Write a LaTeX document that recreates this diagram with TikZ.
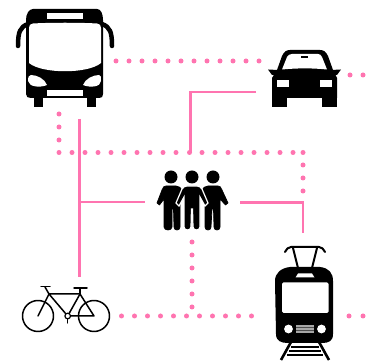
\documentclass[tikz,border=0pt]{standalone}
\definecolor{pk}{HTML}{FF74B0}
\tikzset{
  link/.style={draw=pk,line width=2.8pt,line join=miter},
  dotp/.style={fill=pk,draw=none},
  ink/.style={fill=black,draw=none},
  hole/.style={fill=white,draw=none},
  person/.style={fill=black,draw=black,line width=.7pt,line join=round},
  thin bike/.style={draw=black,line width=1.5pt,line cap=round,line join=round},
}
\begin{document}
\begin{tikzpicture}[x=1pt,y=-1pt]
\useasboundingbox (0,0) rectangle (370,363);
% anchor points of the connectors
\coordinate (busLink) at (79.5,119);
\coordinate (bikeLink) at (79.5,277);
\coordinate (busPeople) at (79.5,202);
\coordinate (peopleL) at (145,202);
\coordinate (carLink) at (256,92);
\coordinate (carDown) at (190.5,153);
\coordinate (peopleR) at (240,202.5);
\coordinate (tramLink) at (303,233);
% solid links
\draw[link] (busLink) -- (bikeLink);
\draw[link] (busPeople) -- (peopleL);
\draw[link] (carLink) -| (carDown);
\draw[link] (peopleR) -| (tramLink);
% dots
\foreach \x in {116,129,...,259} \fill[dotp] (\x,61) circle (2.5);
\foreach \y in {114,127,140} \fill[dotp] (59,\y) circle (2.5);
\foreach \x in {59,72,85,98,111,124,137,150,163,176,189.5,202,215,228,241,254,267,280,293,303} \fill[dotp] (\x,152.5) circle (2.5);
\foreach \y in {165,178,191} \fill[dotp] (303,\y) circle (2.5);
\foreach \x in {350,363} \fill[dotp] (\x,75) circle (2.5);
\foreach \x in {121.5,134.5,...,264} \fill[dotp] (\x,316) circle (2.5);
\foreach \x in {349,363} \fill[dotp] (\x,316) circle (2.5);
\foreach \y in {242,255,268,281,294,307} \fill[dotp] (192,\y) circle (2.5);
% bus
\fill[ink] (34,96) rectangle (43,107);
\fill[ink] (87,96) rectangle (96,107);
\fill[ink] (33,9) -- (97,9) .. controls (101,9) and (103,14) .. (103,20) -- (103,94) .. controls (103,97) and (102,98) .. (99,98) -- (31,98) .. controls (28,98) and (26,97) .. (26,94) -- (26,20) .. controls (26,14) and (29,9) .. (33,9) -- cycle;
\draw[black,line width=4.5pt,line cap=round] (28,24) .. controls (20,27) and (18,32) .. (18,46);
\draw[black,line width=4.5pt,line cap=round] (102,24) .. controls (110,27) and (112,32) .. (112,46);
\fill[hole] (47,13.5) rectangle (83,19.5);
\fill[hole] (33,23.5) .. controls (50,22.5) and (80,22.5) .. (97,23.5) .. controls (100,24) and (101,25) .. (101,28) -- (101,63) .. controls (88,74) and (42,74) .. (29,63) -- (29,28) .. controls (29,25) and (30,24) .. (33,23.5) -- cycle;
\fill[hole] (31,75) .. controls (37,75) and (45,79) .. (47,85) .. controls (40,88) and (29,87) .. (28,81) .. controls (28,77) and (29,75) .. (31,75) -- cycle;
\fill[hole] (99,75) .. controls (93,75) and (85,79) .. (83,85) .. controls (90,88) and (101,87) .. (101,81) .. controls (101,77) and (101,75) .. (99,75) -- cycle;
\fill[hole] (47,90) rectangle (83,96);
% car
\fill[ink] (272,95) rectangle (287,107);
\fill[ink] (322,95) rectangle (337,107);
\fill[ink] (290,50) -- (320,50) .. controls (324,50) and (326,52) .. (328,56) -- (333,70) -- (337,78) -- (337,98) -- (272,98) -- (272,78) -- (277,70) -- (282,56) .. controls (284,52) and (286,50) .. (290,50) -- cycle;
\fill[ink] (268,69.5) -- (278,70) -- (279,75) -- (272,75) -- cycle;
\fill[ink] (341,69.5) -- (331,70) -- (330,75) -- (337,75) -- cycle;
\fill[hole] (292,54) -- (318,54) .. controls (320,54) and (321,55) .. (322,57) -- (327,69.5) .. controls (312,68) and (298,68) .. (282,69.5) -- (287,57) .. controls (288,55) and (290,54) .. (292,54) -- cycle;
\fill[ink] (301,56) rectangle (308,58);
\fill[hole] (277,80) rectangle (289,87);
\fill[hole] (320,80) rectangle (332,87);
% people
\fill[ink] (171,177) circle (6.5);
\fill[ink] (213,177) circle (6.5);
\fill[ink] (192,177) circle (6.5);
% left person
\path[person] (166,186) -- (176,186) .. controls (179,186) and (181,188) .. (182,190) -- (180,205) -- (180,227) .. controls (180,231) and (174,231) .. (174,227) -- (173.5,209) -- (172,209) -- (172,227) .. controls (172,231) and (164,231) .. (164,227) -- (164,199) -- (159.5,205) -- (157,203) -- (162,190) .. controls (163,187) and (164,186) .. (166,186) -- cycle;
% right person
\path[person] (218,186) -- (208,186) .. controls (205,186) and (203,188) .. (202,190) -- (205,205) -- (205,227) .. controls (205,231) and (211,231) .. (211,227) -- (212,209) -- (213.5,209) -- (214,227) .. controls (214,231) and (220,231) .. (220,227) -- (220,199) -- (225.5,205) -- (228,203) -- (222,190) .. controls (221,187) and (220,186) .. (218,186) -- cycle;
% middle person
\fill[ink,draw=white,line width=1.2pt] (187,186) -- (197,186) .. controls (199,186) and (201,187) .. (202,189) -- (208,203) -- (205,206) -- (200,197) -- (200,227) .. controls (200,231) and (193,231) .. (193,227) -- (192.5,209) -- (191.5,209) -- (191,227) .. controls (191,231) and (184,231) .. (184,227) -- (184,197) -- (179,206) -- (176,203) -- (182,189) .. controls (183,187) and (185,186) .. (187,186) -- cycle;
% bicycle
\draw[thin bike] (38,316) circle (15.5);
\draw[thin bike] (94,316) circle (15.5);
\draw[thin bike] (38,316) -- (49,294) -- (80,294) -- (94,316) -- (67.7,316) -- (49,294);
\draw[thin bike] (80,294) -- (67.7,316);
\draw[thin bike] (49,294) -- (45,287);
\draw[thin bike] (41,286.5) -- (50,286.5);
\draw[thin bike] (80,294) -- (80,288);
\draw[thin bike] (74,288) -- (87,288);
\draw[thin bike] (67.7,316) -- (67.7,323);
\draw[black,fill=white,line width=1.2pt] (67.7,316) circle (2.8);
% tram
\draw[black,line width=2pt,line cap=round,line join=round] (285,252) .. controls (287,249) and (288,247) .. (291,247) -- (319,247) .. controls (322,247) and (323,249) .. (325,252);
\draw[black,line width=2pt] (293,248) -- (298,268);
\draw[black,line width=2pt] (317,248) -- (312,268);
\draw[black,line width=2.6pt] (291,342) -- (281,360);
\draw[black,line width=2.6pt] (319,342) -- (329,360);
\foreach \yy/\hw in {347/14,351/16,355/18} \draw[black,line width=1.2pt] (305-\hw,\yy) -- (305+\hw,\yy);
\fill[ink] (290,267) -- (320,267) .. controls (329,268) and (333,273) .. (333,281) -- (333,334) .. controls (333,341) and (329,343) .. (322,343) -- (288,343) .. controls (281,343) and (276,341) .. (276,334) -- (275,281) .. controls (275,273) and (281,268) .. (290,267) -- cycle;
\fill[hole] (298,273.5) -- (312,273.5) -- (314.5,277.5) -- (295.5,277.5) -- cycle;
\fill[hole,rounded corners=1.5pt] (282,282.5) rectangle (328.5,313);
\fill[hole] (288.5,329) circle (4.4);
\fill[hole] (321.5,329) circle (4.4);
\fill[gray!70] (296,325) rectangle (314,333);
\foreach \yy in {327.5,330.5} \draw[black!70,line width=.5pt] (296,\yy) -- (314,\yy);
\end{tikzpicture}
\end{document}
